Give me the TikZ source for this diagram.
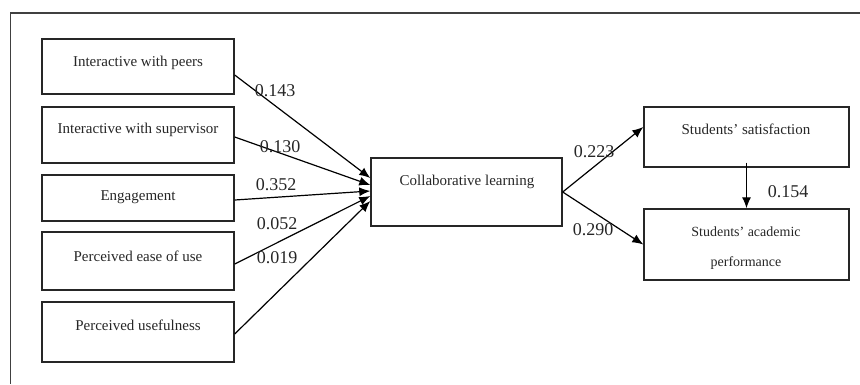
\documentclass[tikz,border=0pt]{standalone}
\usepackage{fontspec}
\setmainfont{Liberation Serif}
\usetikzlibrary{arrows.meta}
\begin{document}
\begin{tikzpicture}[x=1pt,y=-1pt,
  box/.style={draw=black!85,line width=1.4pt,inner sep=0pt},
  txt/.style={inner sep=0pt,font=\fontsize{15}{18}\selectfont,text=black!85},
  num/.style={inner sep=0pt,font=\fontsize{18}{20}\selectfont,text=black!85},
  arr/.style={draw=black,line width=1.2pt,-{Latex[length=11pt,width=9pt]}}]
\useasboundingbox (0,0) rectangle (860,384);
% frame
\coordinate (fr1) at (860,13);
\coordinate (fr2) at (10.5,13);
\coordinate (fr3) at (10.5,384);
\draw[line width=1.6pt,black!75] (fr1) -- (fr2) -- (fr3);
% left boxes
\node[box,minimum width=192pt,minimum height=55pt] (b1) at (138,66.5) {};
\node[box,minimum width=192pt,minimum height=56pt] (b2) at (138,135) {};
\node[box,minimum width=192pt,minimum height=46pt] (b3) at (138,198) {};
\node[box,minimum width=192pt,minimum height=58pt] (b4) at (138,261) {};
\node[box,minimum width=192pt,minimum height=60pt] (b5) at (138,332) {};
\node[txt] (t1) at (138,63) {Interactive with peers};
\node[txt] (t2) at (138,130) {Interactive with supervisor};
\node[txt] (t3) at (138,197) {Engagement};
\node[txt] (t4) at (138,256) {Perceived ease of use};
\node[txt] (t5) at (138,325) {Perceived usefulness};
% central box
\node[box,minimum width=191pt,minimum height=68pt] (c) at (466.5,192) {};
\node[txt] (tc) at (467,182) {Collaborative learning};
% right boxes
\node[box,minimum width=205pt,minimum height=60pt] (s) at (746.5,137) {};
\node[txt] (ts) at (746,129) {Students’ satisfaction};
\node[box,minimum width=205pt,minimum height=71pt] (p) at (746.5,244.5) {};
\node[txt,font=\fontsize{14}{30}\selectfont,align=center] (tp) at (746,248) {Students’ academic\\performance};
% arrows to central
\draw[arr] ([yshift=-8.5pt]b1.east) -- ([yshift=14pt]c.west);
\draw[arr] ([yshift=-2pt]b2.east) -- ([yshift=7pt]c.west);
\draw[arr] ([yshift=-2pt]b3.east) -- ([yshift=1pt]c.west);
\draw[arr] ([yshift=-3pt]b4.east) -- ([yshift=-4pt]c.west);
\draw[arr] ([yshift=-2pt]b5.east) -- ([yshift=-9pt]c.west);
% arrows from central
\draw[arr] (c.east) -- ([yshift=10pt]s.west);
\draw[arr] (c.east) -- ([yshift=0pt]p.west);
\draw[arr] ([yshift=5pt]s.south) -- (p.north);
% labels
\node[num] (l1) at (275,91) {0.143};
\node[num] (l2) at (280,147) {0.130};
\node[num] (l3) at (276,185) {0.352};
\node[num] (l4) at (277,224) {0.052};
\node[num] (l5) at (277,258) {0.019};
\node[num] (l6) at (594,152) {0.223};
\node[num] (l7) at (593,230) {0.290};
\node[num] (l8) at (788,192) {0.154};
\end{tikzpicture}
\end{document}
